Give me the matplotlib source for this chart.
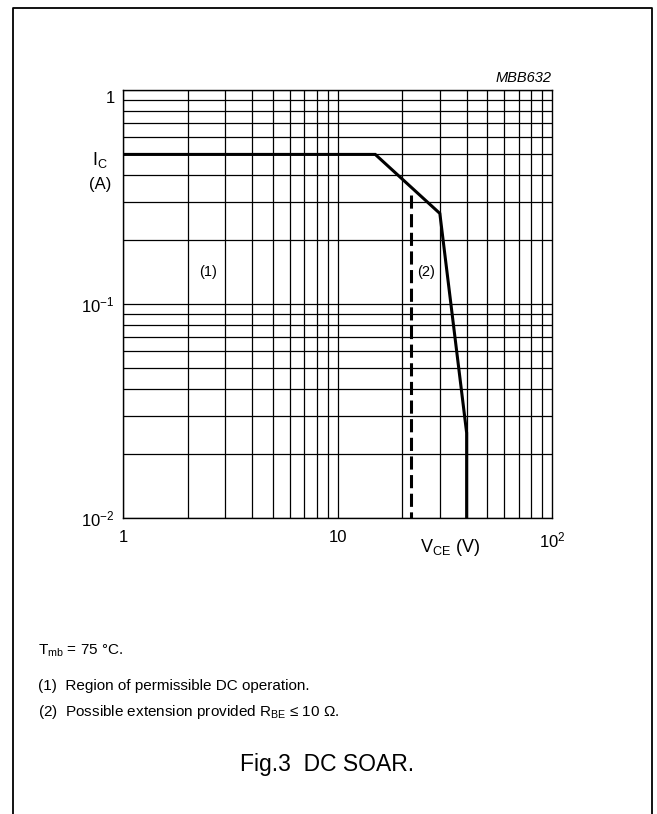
import numpy as np
import matplotlib
matplotlib.use('Agg')
from matplotlib import pyplot as plt
from matplotlib.lines import Line2D
from matplotlib.ticker import FixedLocator, NullFormatter
from matplotlib.transforms import ScaledTranslation

plt.rcParams['font.family'] = ['Liberation Sans', 'DejaVu Sans']
plt.rcParams['mathtext.fontset'] = 'custom'
plt.rcParams['mathtext.rm'] = 'Liberation Sans'
plt.rcParams['mathtext.it'] = 'Liberation Sans:italic'

# SOAR limit curve (1) and extension line (2)
vce_limit = [1, 15, 30, 40, 40]
ic_limit = [0.5, 0.5, 0.265, 0.025, 0.01]
vce_ext = [22, 22]
ic_ext = [0.323, 0.01]

x_ticks = [1, 10, 100]
x_ticklabels = ['1', '10', '$10^2$']
y_ticks = [0.01, 0.1, 1]
y_ticklabels = ['$10^{-2}$', '$10^{-1}$', '1']

W, H = 657, 814
fig = plt.figure(figsize=(W / 100, H / 100), dpi=100)

def fx(px):
    return px / W

def fy(py):
    return 1 - py / H

# outer frame, open at bottom
fig.add_artist(Line2D([fx(13), fx(13), fx(652), fx(652)],
                      [0, fy(8), fy(8), 0], color='black', lw=1.3))

ax = fig.add_axes([fx(123), fy(518), fx(552) - fx(123), fy(90) - fy(518)])
ax.set_xscale('log')
ax.set_yscale('log')
ax.set_xlim(1, 100)
ax.set_ylim(0.01, 1)

# grid lines at every 1..9 step of each decade
minor = [m * 10.0 ** e for e in (-2, -1, 0, 1) for m in range(1, 10)]
for v in minor:
    if 1 <= v <= 100:
        ax.axvline(v, color='black', lw=0.9, zorder=1)
    if 0.01 <= v <= 1:
        ax.axhline(v, color='black', lw=0.9, zorder=1)

ax.plot(vce_limit, ic_limit, color='black', lw=2.2, zorder=3, solid_joinstyle='miter')
ax.plot(vce_ext, ic_ext, color='black', lw=2.2, linestyle=(0, (4.3, 1.8)), zorder=3)

ax.xaxis.set_major_locator(FixedLocator(x_ticks))
ax.yaxis.set_major_locator(FixedLocator(y_ticks))
ax.xaxis.set_minor_formatter(NullFormatter())
ax.yaxis.set_minor_formatter(NullFormatter())
ax.set_xticklabels(x_ticklabels)
ax.set_yticklabels(y_ticklabels)
ax.tick_params(which='both', length=0, labelsize=12)
ax.tick_params(axis='x', pad=9)
ax.tick_params(axis='y', pad=6)
for s in ax.spines.values():
    s.set_linewidth(1.0)

# top "1" label sits a little below the top line
top_lbl = ax.yaxis.get_major_ticks()[2].label1
top_lbl.set_transform(top_lbl.get_transform() + ScaledTranslation(0, -0.07, fig.dpi_scale_trans))

ax.text(2.48, 0.141, '(1)', fontsize=10.5, ha='center', va='center')
ax.text(25.8, 0.141, '(2)', fontsize=10.5, ha='center', va='center')

fig.text(fx(552), fy(78), 'MBB632', fontsize=10.5, style='italic', ha='right', va='center')
fig.text(fx(100), fy(160), r'I$_\mathregular{C}$', fontsize=13, ha='center', va='center')
fig.text(fx(100), fy(185), '(A)', fontsize=12, ha='center', va='center')
fig.text(fx(450), fy(548), r'V$_\mathregular{CE}$ (V)', fontsize=13, ha='center', va='center')

fig.text(fx(38), fy(651), 'T$_\\mathregular{mb}$ = 75 \u00b0C.', fontsize=11, ha='left', va='center')
fig.text(fx(38), fy(686), '(1)  Region of permissible DC operation.', fontsize=11, ha='left', va='center')
fig.text(fx(38), fy(712), '(2)  Possible extension provided R$_\\mathregular{BE}$ \u2264 10 \u03a9.',
         fontsize=11, ha='left', va='center')
fig.text(fx(327), fy(765), 'Fig.3  DC SOAR.', fontsize=16.5, ha='center', va='center')

fig.savefig('out.png', dpi=100)
